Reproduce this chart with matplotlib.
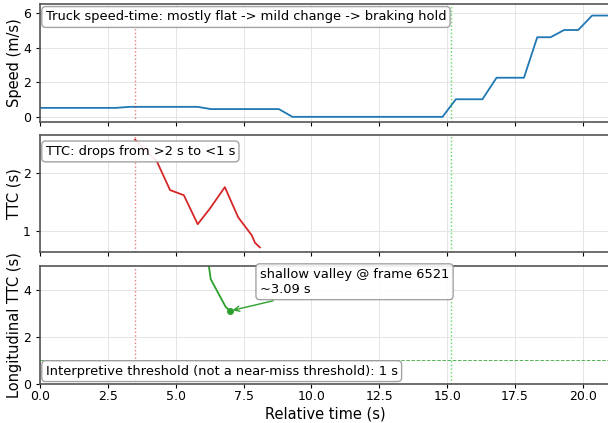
import numpy as np
import matplotlib.pyplot as plt

# speed-time (relative time in s, speed in m/s)
speed_t = [0.0, 2.8, 3.3, 5.8, 6.3, 8.8, 9.3, 14.83, 15.32, 16.3, 16.82,
           17.83, 18.32, 18.81, 19.31, 19.83, 20.34, 21.0]
speed_v = [0.52, 0.52, 0.58, 0.58, 0.45, 0.45, 0.0, 0.0, 1.02, 1.02, 2.27,
           2.27, 4.62, 4.62, 5.04, 5.04, 5.88, 5.88]

# TTC
ttc_t = [3.5, 4.3, 4.79, 5.3, 5.81, 6.26, 6.81, 7.3, 7.8, 7.92, 8.1]
ttc_v = [2.58, 2.21, 1.71, 1.62, 1.12, 1.39, 1.76, 1.24, 0.93, 0.80, 0.72]

# longitudinal TTC
lttc_t = [6.1, 6.29, 6.84, 7.0]
lttc_v = [6.0, 4.44, 3.26, 3.09]
valley_t, valley_v, valley_frame = 7.0, 3.09, 6521

t_start, t_end = 3.5, 15.13
threshold = 1.0

fig = plt.figure(figsize=(6.08, 4.23), dpi=100)
W, H = 608, 423


def add_ax(top, bottom, sharex=None):
    # pixel box -> figure fraction
    return fig.add_axes([40 / W, 1 - bottom / H, 570 / W, (bottom - top) / H],
                        sharex=sharex)


ax1 = add_ax(4, 122)
ax2 = add_ax(135, 252, ax1)
ax3 = add_ax(266, 383.5, ax1)

box = dict(boxstyle='round,pad=0.3', fc='white', ec='#999999', alpha=0.9)
fs_box = 9.4

ax1.plot(speed_t, speed_v, color='tab:blue', lw=1.3)
ax1.set_ylim(-0.3, 6.55)
ax1.set_yticks([0, 2, 4, 6])
ax1.set_ylabel('Speed (m/s)', fontsize=10.5)
ax1.text(0.01, 0.945, 'Truck speed-time: mostly flat -> mild change -> braking hold',
         transform=ax1.transAxes, va='top', ha='left', fontsize=fs_box, bbox=box)

ax2.plot(ttc_t, ttc_v, color='tab:red', lw=1.3)
ax2.set_ylim(0.64, 2.66)
ax2.set_yticks([1, 2])
ax2.set_ylabel('TTC (s)', fontsize=10.5)
ax2.text(0.01, 0.915, 'TTC: drops from >2 s to <1 s',
         transform=ax2.transAxes, va='top', ha='left', fontsize=fs_box, bbox=box)

ax3.plot(lttc_t, lttc_v, color='tab:green', lw=1.3)
ax3.plot([valley_t], [valley_v], 'o', color='tab:green', ms=4)
ax3.axhline(threshold, color='tab:green', ls='--', lw=0.7, alpha=0.8)
ax3.annotate(f'shallow valley @ frame {valley_frame}\n~{valley_v:.2f} s',
             xy=(valley_t, valley_v), xytext=(8.1, 4.33), va='center', ha='left',
             fontsize=fs_box, bbox=box,
             arrowprops=dict(arrowstyle='->', color='tab:green', lw=1))
ax3.text(0.01, 0.05, 'Interpretive threshold (not a near-miss threshold): 1 s',
         transform=ax3.transAxes, va='bottom', ha='left', fontsize=fs_box, bbox=box)
ax3.set_ylim(0, 5)
ax3.set_yticks([0, 2, 4])
ax3.set_ylabel('Longitudinal TTC (s)', fontsize=10.5)
ax3.set_xlabel('Relative time (s)', fontsize=10.5, labelpad=2)
ax3.set_xlim(0, 21.0)
ax3.set_xticks(np.arange(0, 21, 2.5))

for ax in (ax1, ax2, ax3):
    ax.axvline(t_start, color='tab:red', ls=':', lw=1, alpha=0.6)
    ax.axvline(t_end, color='limegreen', ls=':', lw=1, alpha=0.8)
    ax.grid(True, color='#e4e4e4', lw=0.7)
    ax.tick_params(labelsize=9, length=3)
    ax.tick_params(axis='x', pad=2)
    ax.yaxis.set_label_coords(-0.032, 0.5)
    for s in ax.spines.values():
        s.set_color('#555555')
        s.set_linewidth(1.2)
for ax in (ax1, ax2):
    ax.tick_params(labelbottom=False)

fig.savefig('out.png', dpi=100)
